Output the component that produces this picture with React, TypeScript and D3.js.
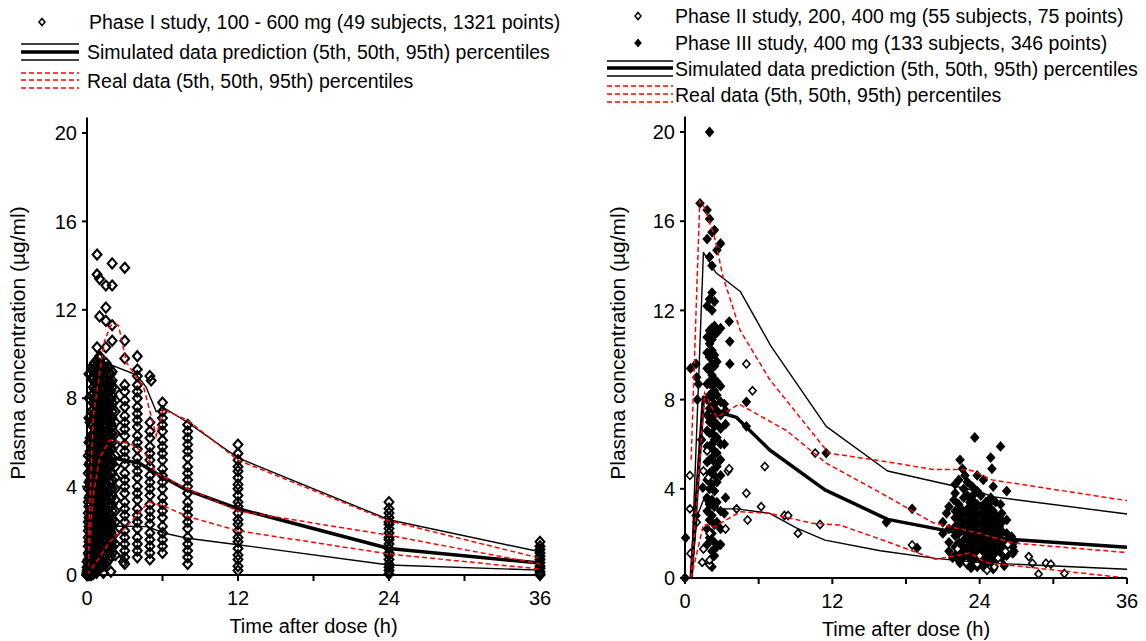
import { scaleLinear, line } from "d3";

const FONT = '"Liberation Sans", Arial, Helvetica, sans-serif';

type Pt = [number, number];

// ---------- Left panel: Phase I study (values per sampling time) ----------
const phase1Times = [
  0, 0.1, 0.15, 0.25, 0.35, 0.5, 0.6, 0.75, 0.9, 1, 1.1, 1.25, 1.4, 1.5, 1.6, 1.75, 1.9, 2, 2.25,
  3, 4, 5, 6, 8, 12, 24, 36,
];
const phase1Conc: number[][] = [
  [0, 0, 0, 0, 0.05, 0.1, 0.2, 0.35, 0.6],
  [0, 0.05, 0.2, 0.4, 0.7, 1.0, 1.3, 1.7, 2.0, 2.4, 2.8, 3.3, 3.9, 4.6, 5.4],
  [0, 0.15, 0.5, 0.9, 1.5, 2.2, 2.6, 3.1, 3.5, 4.2, 5.0, 6.0, 7.1, 8.0, 9.1],
  [0, 0.1, 0.3, 0.5, 0.8, 1.1, 1.4, 1.8, 2.1, 2.5, 2.9, 3.2, 3.6, 4.0, 4.3, 4.7, 5.1, 5.6, 6.2, 6.9],
  [0, 0.2, 0.5, 0.8, 1.2, 1.5, 1.9, 2.3, 2.6, 3.0, 3.4, 3.8, 4.1, 4.5, 4.9, 5.3, 5.8, 6.3, 6.8, 7.4, 8.1, 8.9, 9.3],
  [0.05, 0.3, 0.6, 0.9, 1.2, 1.5, 1.9, 2.2, 2.6, 2.9, 3.3, 3.6, 4.0, 4.3, 4.7, 5.0, 5.4, 5.7, 6.1, 6.4, 6.8, 7.1, 7.5, 7.8, 8.2, 8.5, 8.9, 9.3],
  [0.2, 0.45, 0.75, 1.05, 1.35, 1.7, 2.05, 2.4, 2.75, 3.1, 3.45, 3.85, 4.2, 4.55, 4.9, 5.25, 5.6, 5.95, 6.3, 6.65, 7.0, 7.35, 7.7, 8.05, 8.4, 8.75, 9.15, 9.6],
  [0.1, 0.4, 0.7, 1.0, 1.4, 1.7, 2.1, 2.4, 2.8, 3.1, 3.5, 3.8, 4.2, 4.5, 4.9, 5.2, 5.6, 5.9, 6.3, 6.6, 7.0, 7.3, 7.7, 8.0, 8.4, 8.7, 9.1, 9.4, 9.7],
  [0.25, 0.55, 0.85, 1.15, 1.55, 1.85, 2.25, 2.55, 2.95, 3.25, 3.65, 3.95, 4.35, 4.65, 5.05, 5.35, 5.75, 6.05, 6.45, 6.75, 7.15, 7.45, 7.85, 8.15, 8.55, 8.85, 9.25, 9.55],
  [0.3, 0.6, 1.0, 1.3, 1.7, 2.0, 2.4, 2.7, 3.1, 3.4, 3.8, 4.1, 4.5, 4.8, 5.2, 5.5, 5.9, 6.2, 6.6, 6.9, 7.3, 7.6, 8.0, 8.3, 8.7, 9.0, 9.4, 9.8],
  [0.35, 0.7, 1.05, 1.45, 1.8, 2.15, 2.55, 2.9, 3.25, 3.65, 4.0, 4.35, 4.75, 5.1, 5.45, 5.85, 6.2, 6.55, 6.95, 7.3, 7.65, 8.05, 8.4, 8.75, 9.15, 9.5],
  [0.4, 0.8, 1.1, 1.5, 1.8, 2.2, 2.5, 2.9, 3.2, 3.6, 3.9, 4.3, 4.6, 5.0, 5.3, 5.7, 6.0, 6.4, 6.7, 7.1, 7.4, 7.8, 8.1, 8.5, 8.8, 9.2, 9.5],
  [0.45, 0.85, 1.25, 1.65, 2.05, 2.45, 2.85, 3.25, 3.65, 4.05, 4.45, 4.85, 5.25, 5.65, 6.05, 6.45, 6.85, 7.25, 7.65, 8.05, 8.45, 8.85, 9.3],
  [0.5, 0.9, 1.2, 1.6, 1.9, 2.3, 2.6, 3.0, 3.3, 3.7, 4.0, 4.4, 4.7, 5.1, 5.4, 5.8, 6.1, 6.5, 6.8, 7.2, 7.5, 7.9, 8.2, 8.6, 8.9, 9.3, 9.6],
  [0.6, 1.0, 1.35, 1.75, 2.15, 2.5, 2.9, 3.3, 3.65, 4.05, 4.45, 4.8, 5.2, 5.6, 5.95, 6.35, 6.75, 7.1, 7.5, 7.9, 8.25, 8.65, 9.05, 9.4],
  [0.7, 1.0, 1.4, 1.7, 2.1, 2.4, 2.8, 3.1, 3.5, 3.8, 4.2, 4.5, 4.9, 5.2, 5.6, 5.9, 6.3, 6.6, 7.0, 7.3, 7.7, 8.0, 8.4, 8.7, 9.1, 9.4],
  [0.85, 1.2, 1.6, 1.95, 2.35, 2.7, 3.1, 3.45, 3.85, 4.2, 4.6, 4.95, 5.35, 5.7, 6.1, 6.45, 6.85, 7.2, 7.6, 7.95, 8.35, 8.7, 9.1],
  [1.0, 1.3, 1.5, 1.8, 2.2, 2.5, 2.9, 3.2, 3.6, 3.9, 4.3, 4.6, 5.0, 5.3, 5.7, 6.0, 6.4, 6.7, 7.1, 7.4, 7.8, 8.1, 8.5, 8.8, 9.2],
  [0.9, 1.4, 1.9, 2.4, 2.9, 3.4, 3.9, 4.4, 4.9, 5.4, 5.9, 6.4, 6.9, 7.4, 7.9, 8.4],
  [0.5, 0.8, 1.1, 1.4, 1.7, 2.0, 2.4, 2.7, 3.0, 3.3, 3.7, 4.0, 4.3, 4.6, 5.0, 5.3, 5.6, 5.9, 6.3, 6.6, 6.9, 7.2, 7.6, 7.9, 8.3, 8.6],
  [0.8, 1.1, 1.4, 1.7, 2.1, 2.4, 2.7, 3.0, 3.4, 3.7, 4.0, 4.4, 4.7, 5.0, 5.3, 5.7, 6.0, 6.3, 6.7, 7.0, 7.3, 7.6, 8.0, 8.3, 8.6, 9.0, 9.3],
  [0.7, 1.0, 1.3, 1.6, 1.9, 2.3, 2.6, 2.9, 3.2, 3.6, 3.9, 4.2, 4.5, 4.9, 5.2, 5.5, 5.8, 6.2, 6.5, 6.9],
  [1.0, 1.3, 1.6, 1.9, 2.2, 2.6, 2.9, 3.2, 3.5, 3.9, 4.2, 4.5, 4.8, 5.2, 5.5, 5.8, 6.1, 6.5, 6.8, 7.1, 7.4, 7.8],
  [0.5, 0.8, 1.1, 1.4, 1.7, 2.1, 2.4, 2.7, 3.0, 3.3, 3.7, 4.0, 4.3, 4.6, 4.9, 5.3, 5.6, 5.9, 6.2, 6.5, 6.8],
  [0.2, 0.4, 0.7, 0.9, 1.2, 1.5, 1.7, 2.0, 2.3, 2.5, 2.8, 3.1, 3.3, 3.6, 3.9, 4.1, 4.4, 4.7, 4.9, 5.2, 5.5],
  [0.05, 0.2, 0.35, 0.5, 0.7, 0.9, 1.0, 1.2, 1.4, 1.6, 1.7, 1.9, 2.1, 2.3, 2.4, 2.6, 2.8, 3.0, 3.3],
  [0, 0.05, 0.15, 0.3, 0.4, 0.55, 0.7, 0.85, 1.0, 1.15, 1.3, 1.5],
];
const phase1Outliers: Pt[] = [
  [0.8, 14.5], [0.8, 13.6], [1.0, 13.4], [2.0, 14.1], [3.0, 13.9], [1.5, 13.1], [2.0, 13.1],
  [1.5, 12.1], [1.0, 11.7], [1.5, 11.5], [2.0, 11.3], [2.0, 10.6], [0.8, 10.3], [1.5, 10.3],
  [1.0, 9.9], [3.0, 9.8], [4.0, 9.9], [3.0, 10.6], [0.5, 9.5], [5.0, 9.0], [5.1, 8.8],
  [12, 5.9], [1.3, 0.1], [1.9, 0.15], [2.9, 0.6], [1.2, 0.6],
];

// percentiles, left panel
const leftSim95: Pt[] = [[0, 0], [0.5, 6.5], [1, 9.0], [2.1, 9.46], [3.95, 9.05], [4.7, 8.5], [5.5, 7.4], [6.3, 7.5], [8, 6.9], [12, 5.3], [24, 2.5], [36, 1.05]];
const leftSim50: Pt[] = [[0, 0], [0.5, 3.5], [1, 5.0], [2.2, 5.28], [4.2, 5.05], [5.5, 4.6], [7.9, 3.85], [12, 3.0], [24, 1.2], [36, 0.54]];
const leftSim5: Pt[] = [[0, 0], [0.5, 0.9], [1, 1.7], [2.2, 2.22], [4.8, 2.19], [6.1, 1.9], [8, 1.66], [12, 1.37], [24, 0.45], [36, 0.22]];
const leftReal95: Pt[] = [[0, 0], [0.5, 7.2], [1, 9.1], [1.4, 10.6], [1.9, 11.3], [2.5, 11.3], [3.15, 9.6], [4.5, 8.5], [5.5, 6.3], [6.05, 7.5], [8, 7.0], [12, 5.2], [24, 2.45], [36, 0.76]];
const leftReal50: Pt[] = [[0, 0], [0.5, 3.6], [1, 5.3], [1.8, 6.1], [3.4, 5.95], [4.6, 5.5], [5.5, 4.6], [8, 3.9], [12, 2.9], [24, 1.8], [36, 0.5]];
const leftReal5: Pt[] = [[0, 0], [1, 0.8], [1.8, 1.5], [3, 2.1], [4.9, 3.3], [6, 3.15], [8, 2.65], [12, 2.0], [24, 0.95], [36, 0.27]];

// ---------- Right panel: Phase II (open) and Phase III (filled) ----------
const phase2Points: Pt[] = [
  [0, 0], [0.4, 4.6], [0.4, 3.1], [0.45, 1.1], [0.95, 2.5], [1.5, 4.8], [1.5, 1.3], [1.4, 0.7],
  [2.0, 0.6], [2.0, 0.8], [1.8, 5.7], [1.9, 4.5], [2.0, 2.0], [3.5, 4.8], [3.6, 4.9], [3.3, 2.2],
  [4.2, 3.1], [5.0, 9.6], [5.5, 8.4], [5.0, 3.8], [5.1, 2.6], [6.5, 5.0], [6.2, 3.2], [8.1, 2.8],
  [8.4, 2.8], [9.2, 2.0], [11.0, 2.4], [10.6, 5.6], [18.5, 1.48], [22.2, 1.3], [23.8, 0.63],
  [25.2, 0.5], [26.3, 1.5], [28.0, 0.96], [28.3, 0.66], [29.4, 0.66], [29.8, 0.62], [28.8, 0.18],
  [30.9, 0.2], [24.0, 1.0], [25.5, 0.9], [22.9, 0.7], [26.1, 1.2], [24.6, 0.35],
];
const phase3Times = [
  1.8, 2.0, 2.2, 2.4, 2.6, 2.9,
  21.5, 22.0, 22.3, 22.5, 22.7, 23.0, 23.2, 23.4, 23.6, 23.8, 24.1, 24.3, 24.5, 24.7, 24.9, 25.1, 25.3, 25.6, 25.8, 26.2, 26.8,
];
const phase3Conc: number[][] = [
  [1.5, 2.2, 3.0, 3.6, 4.4, 5.2, 5.9, 6.6, 7.3, 8.0, 8.7, 9.4, 10.1, 10.8, 12.2, 15.2, 16.5],
  [0.6, 1.8, 2.6, 3.3, 4.0, 4.7, 5.3, 5.9, 6.5, 7.0, 7.6, 8.2, 8.8, 9.3, 9.9, 10.5, 11.1, 12.5, 14.4, 16.1, 20.0],
  [0.5, 1.2, 2.0, 2.8, 3.5, 4.2, 4.8, 5.4, 6.0, 6.5, 7.1, 7.6, 8.1, 8.6, 9.1, 9.6, 10.2, 10.7, 11.2, 12.0, 12.8, 14.0, 15.5],
  [1.0, 1.6, 2.4, 3.2, 3.9, 4.6, 5.2, 5.7, 6.2, 6.8, 7.3, 7.8, 8.4, 8.9, 9.5, 10.0, 10.9, 11.3, 12.4, 15.6],
  [1.4, 2.5, 3.4, 4.3, 5.0, 5.6, 6.3, 6.9, 7.5, 8.2, 8.8, 9.7, 11.0, 14.7],
  [1.5, 2.2, 3.0, 4.6, 5.3, 6.0, 6.7, 7.3, 7.9, 8.6, 11.2, 15.0],
  [1.2, 1.6, 2.2, 3.2],
  [1.0, 1.4, 1.9, 2.3, 2.7, 3.0, 3.8],
  [0.8, 1.2, 1.6, 2.0, 2.4, 2.8, 3.3, 4.4],
  [1.1, 1.5, 2.2, 2.6, 3.1],
  [0.9, 1.3, 1.7, 2.1, 2.5, 2.9, 3.6, 4.0],
  [0.6, 1.0, 1.4, 1.8, 2.2, 2.6, 3.1, 3.7, 4.3],
  [0.8, 1.2, 1.6, 2.0, 2.4, 2.8, 3.4],
  [0.7, 1.1, 1.5, 1.9, 2.3, 2.7, 3.0, 3.5, 4.1],
  [0.9, 1.4, 1.8, 2.2, 2.6, 3.2, 3.8],
  [0.5, 0.9, 1.3, 1.7, 2.1, 2.5, 2.9, 3.3, 3.9, 4.6],
  [0.8, 1.2, 1.6, 2.0, 2.4, 2.8, 3.2, 3.7],
  [1.0, 1.5, 1.9, 2.3, 2.7, 3.1],
  [0.6, 1.0, 1.4, 1.8, 2.2, 2.6, 3.0, 3.4],
  [0.9, 1.3, 1.7, 2.1, 2.5, 2.9, 3.3],
  [0.7, 1.1, 1.5, 1.9, 2.3, 2.7, 3.1, 3.6],
  [1.0, 1.4, 1.8, 2.2, 2.6, 3.0],
  [0.8, 1.2, 1.6, 2.0, 2.4, 2.8, 3.4],
  [1.1, 1.5, 1.9, 2.3, 2.7],
  [0.9, 1.3, 1.7, 2.1, 2.5, 2.9],
  [1.0, 1.5, 2.0, 2.6],
  [1.2, 1.6],
];
const phase3Points: Pt[] = [
  [0, 0], [0.05, 1.8], [0.45, 9.4], [0.9, 9.6], [0.95, 9.0], [1.0, 8.0], [1.1, 8.7], [1.22, 16.8],
  [1.35, 6.2], [1.45, 4.05], [0.9, 2.8], [3.2, 7.8], [3.3, 7.5], [3.6, 11.5], [3.65, 10.6],
  [3.65, 9.6], [3.3, 6.9], [3.2, 6.0], [3.3, 3.6], [3.2, 2.9], [2.85, 1.5], [5.0, 7.9], [5.0, 6.8],
  [11.5, 5.6], [16.4, 2.5], [18.5, 3.1], [18.9, 1.35], [21.0, 2.5], [21.0, 2.0], [21.3, 2.9],
  [21.8, 0.9], [21.9, 3.5], [22.0, 4.2], [22.4, 5.3], [22.6, 4.9], [22.8, 4.6], [22.4, 0.67],
  [23.3, 0.45], [23.6, 6.3], [24.3, 4.4], [24.3, 0.5], [24.9, 5.4], [25.0, 4.9], [25.1, 4.1],
  [25.1, 0.4], [25.7, 5.9], [25.7, 3.3], [26.0, 0.55], [26.2, 3.9], [26.6, 1.85], [26.7, 1.4], [26.7, 1.1],
];

// percentiles, right panel
const rightSim95: Pt[] = [[0.5, 0], [1.5, 14.6], [2.5, 13.7], [4.5, 12.85], [7, 10.4], [11.5, 6.8], [16.5, 4.8], [24, 3.87], [25, 3.65], [36, 2.87]];
const rightSim50: Pt[] = [[0.5, 0], [1.5, 8.1], [2.6, 7.46], [4.2, 7.2], [6.9, 5.74], [11.4, 3.95], [16.5, 2.63], [21.7, 2.08], [24, 1.88], [26.7, 1.73], [36, 1.38]];
const rightSim5: Pt[] = [[0.5, 0], [1.0, 2.8], [1.55, 3.57], [1.9, 3.1], [4.2, 3.1], [6.9, 2.9], [9.1, 2.24], [11.4, 1.7], [15.9, 1.22], [20.4, 0.88], [24, 0.69], [36, 0.39]];
const rightReal95: Pt[] = [[0.5, 5.3], [1.2, 16.9], [1.6, 16.6], [2.4, 15.3], [3.1, 13.5], [4.5, 11.1], [6.9, 8.9], [11.7, 5.6], [15.9, 5.26], [20.2, 4.87], [22.9, 4.87], [23.6, 4.77], [25, 4.4], [36, 3.47]];
const rightReal50: Pt[] = [[0.5, 0], [1.6, 8.3], [2.6, 7.2], [4.4, 7.8], [8.3, 6.6], [11.5, 5.15], [15.9, 3.83], [20.2, 2.48], [24, 2.0], [26.7, 1.57], [36, 1.14]];
const rightReal5: Pt[] = [[0.5, 0], [1.5, 2.4], [2.4, 2.3], [4.5, 2.97], [6.9, 2.9], [10.4, 2.45], [12.6, 2.38], [15.9, 1.74], [20.4, 0.84], [23.2, 1.12], [24.5, 0.69], [36, 0]];

const xTicks = [0, 6, 12, 18, 24, 30, 36];
const xLabels = [0, 12, 24, 36];
const yTicks = [0, 4, 8, 12, 16, 20];

const diamond = (w: number, h: number) => `M0,${-h}L${w},0L0,${h}L${-w},0Z`;

type Scale = (v: number) => number;

function Axes({ x, y, title }: { x: Scale; y: Scale; title: [number, number] }) {
  const x0 = x(0), y0 = y(0);
  return (
    <g fontFamily={FONT} fill="#000">
      <line x1={x0 - 3} x2={x(36)} y1={y0} y2={y0} stroke="#000" strokeWidth={2} />
      <line x1={x0} x2={x0} y1={y0} y2={y(20.7)} stroke="#000" strokeWidth={2} />
      {xTicks.map((t) => (
        <line key={t} x1={x(t)} x2={x(t)} y1={y0} y2={y0 + 6} stroke="#000" strokeWidth={2} />
      ))}
      {xLabels.map((t) => (
        <text key={t} x={x(t)} y={y0 + 30} textAnchor="middle" fontSize={20}>{t}</text>
      ))}
      {yTicks.map((v) => (
        <g key={v}>
          <line x1={x0 - 5} x2={x0} y1={y(v)} y2={y(v)} stroke="#000" strokeWidth={2} />
          <text x={x0 - 10} y={y(v)} dy="0.36em" textAnchor="end" fontSize={20}>{v}</text>
        </g>
      ))}
      <text x={(x0 + x(36)) / 2} y={y0 + 58} textAnchor="middle" fontSize={20}>Time after dose (h)</text>
      <text transform={`translate(${title[0]},${title[1]}) rotate(-90)`} textAnchor="middle" fontSize={21}>
        Plasma concentration (µg/ml)
      </text>
    </g>
  );
}

function Bands({ x, y, sim, real }: { x: Scale; y: Scale; sim: Pt[][]; real: Pt[][] }) {
  const gen = line<Pt>().x((d) => x(d[0])).y((d) => y(d[1]));
  return (
    <g fill="none">
      {sim.map((s, i) => (
        <path key={"s" + i} d={gen(s) ?? ""} stroke="#000" strokeWidth={i === 1 ? 3.5 : 1.4} strokeLinejoin="round" />
      ))}
      {real.map((s, i) => (
        <path key={"r" + i} d={gen(s) ?? ""} stroke="#ff0000" strokeWidth={1.5} strokeDasharray="5,3" />
      ))}
    </g>
  );
}

function LegendLines({ x1, x2, sim, real }: { x1: number; x2: number; sim: number[]; real: number[] }) {
  return (
    <g>
      {sim.map((yy, i) => (
        <line key={"s" + i} x1={x1} x2={x2} y1={yy} y2={yy} stroke="#000" strokeWidth={i === 1 ? 3.5 : 1.4} />
      ))}
      {real.map((yy, i) => (
        <line key={"r" + i} x1={x1} x2={x2} y1={yy} y2={yy} stroke="#ff0000" strokeWidth={1.5} strokeDasharray="5,3" />
      ))}
    </g>
  );
}

export default function App() {
  const xL = scaleLinear().domain([0, 36]).range([87, 540]);
  const yL = scaleLinear().domain([0, 20]).range([575, 133]);
  const xR = scaleLinear().domain([0, 36]).range([685, 1127]);
  const yR = scaleLinear().domain([0, 20]).range([578, 132]);

  const openL = diamond(4.4, 5);
  const openR = diamond(3.6, 4);
  const filledR = diamond(4.8, 5.4);

  const p1: Pt[] = [];
  phase1Times.forEach((t, i) => phase1Conc[i].forEach((v) => p1.push([t, v])));
  phase1Outliers.forEach((d) => p1.push(d));

  const p3: Pt[] = [];
  phase3Times.forEach((t, i) => phase3Conc[i].forEach((v) => p3.push([t, v])));
  phase3Points.forEach((d) => p3.push(d));

  return (
    <svg width={1146} height={641} style={{ position: "absolute", left: 0, top: 0, background: "#fff" }}>
      <rect width={1146} height={641} fill="#fff" />

      {/* left legend */}
      <g fontFamily={FONT} fontSize={19.5} fill="#000">
        <path d={diamond(3, 3.5)} transform="translate(42,22)" fill="#fff" stroke="#000" strokeWidth={1.5} />
        <text x={89} y={22} dy="0.36em">Phase I study, 100 - 600 mg (49 subjects, 1321 points)</text>
        <LegendLines x1={21} x2={79} sim={[44, 52, 60]} real={[73, 80, 88]} />
        <text x={87} y={52} dy="0.36em">Simulated data prediction (5th, 50th, 95th) percentiles</text>
        <text x={87} y={81} dy="0.36em">Real data (5th, 50th, 95th) percentiles</text>
      </g>

      {/* right legend */}
      <g fontFamily={FONT} fontSize={19.5} fill="#000">
        <path d={diamond(3, 3.5)} transform="translate(638,16)" fill="#fff" stroke="#000" strokeWidth={1.5} />
        <text x={675} y={16} dy="0.36em">Phase II study, 200, 400 mg (55 subjects, 75 points)</text>
        <path d={diamond(3.8, 4.4)} transform="translate(638,43)" fill="#000" />
        <text x={675} y={43} dy="0.36em">Phase III study, 400 mg (133 subjects, 346 points)</text>
        <LegendLines x1={607} x2={673} sim={[61, 68, 76]} real={[86, 94, 102]} />
        <text x={675} y={69} dy="0.36em">Simulated data prediction (5th, 50th, 95th) percentiles</text>
        <text x={675} y={95} dy="0.36em">Real data (5th, 50th, 95th) percentiles</text>
      </g>

      {/* left panel: hollow markers, outlines only so dense stacks build up dark */}
      <g>
        {p1.map((d, i) => (
          <path key={i} d={openL} transform={`translate(${xL(d[0])},${yL(d[1])})`} fill="none" stroke="#000" strokeWidth={2.1} />
        ))}
      </g>
      <Bands x={xL} y={yL} sim={[leftSim5, leftSim50, leftSim95]} real={[leftReal5, leftReal50, leftReal95]} />
      <Axes x={xL} y={yL} title={[25, 343]} />

      {/* right panel */}
      <g>
        {p3.map((d, i) => (
          <path key={i} d={filledR} transform={`translate(${xR(d[0])},${yR(d[1])})`} fill="#000" />
        ))}
        {phase2Points.map((d, i) => (
          <path key={i} d={openR} transform={`translate(${xR(d[0])},${yR(d[1])})`} fill="#fff" stroke="#000" strokeWidth={1.6} />
        ))}
      </g>
      <Bands x={xR} y={yR} sim={[rightSim5, rightSim50, rightSim95]} real={[rightReal5, rightReal50, rightReal95]} />
      <Axes x={xR} y={yR} title={[625, 343]} />
    </svg>
  );
}
